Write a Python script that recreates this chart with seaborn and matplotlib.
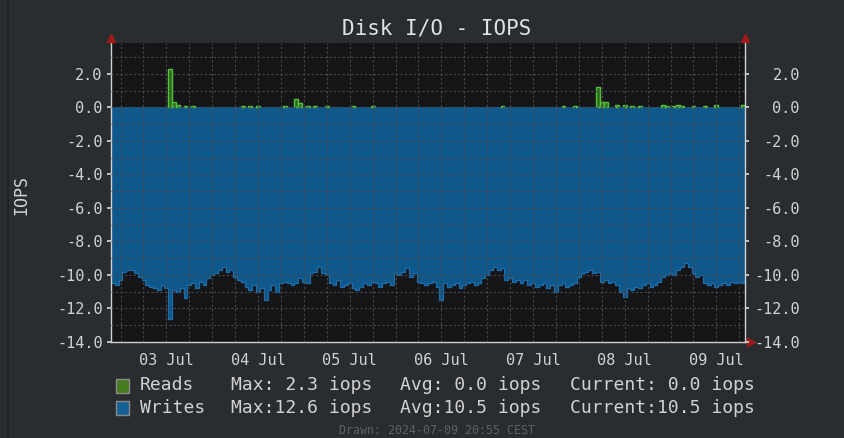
import numpy as np
import pandas as pd
import matplotlib
matplotlib.use("Agg")
import matplotlib.pyplot as plt
import matplotlib.dates as mdates
from matplotlib.patches import Rectangle
from matplotlib.lines import Line2D
from matplotlib.ticker import MultipleLocator
import seaborn as sns

# hourly samples, first one at 02 Jul 21:30
start = pd.Timestamp("2024-07-02 21:30")

# writes (iops), drawn below zero
writes = [
    10.5, 10.6, 10.3, 9.8, 9.7, 9.7, 9.9, 10.1, 10.3, 10.6,
    10.7, 10.8, 10.9, 10.6, 10.8, 12.6, 10.9, 11.0, 10.8, 11.4,
    10.6, 10.5, 10.8, 10.4, 10.6, 10.2, 10.0, 9.9, 9.7, 9.5,
    9.8, 9.7, 10.1, 10.3, 10.4, 10.7, 10.9, 10.6, 11.0, 10.8,
    11.5, 10.9, 10.6, 11.0, 10.5, 10.4, 10.5, 10.6, 10.5, 10.2,
    10.4, 10.5, 9.9, 9.8, 9.5, 9.9, 10.0, 10.5, 10.6, 10.3,
    10.7, 10.6, 10.5, 10.8, 10.9, 10.7, 10.5, 10.6, 10.4, 10.5,
    10.7, 10.5, 10.4, 10.6, 9.9, 10.0, 9.8, 9.6, 10.1, 9.9,
    10.4, 10.5, 10.6, 10.5, 10.4, 10.7, 11.5, 10.5, 10.7, 10.6,
    10.5, 10.8, 10.6, 10.5, 10.4, 10.6, 10.5, 10.2, 10.0, 9.7,
    9.5, 9.7, 9.6, 10.3, 10.2, 10.4, 10.3, 10.5, 10.3, 10.6,
    10.5, 10.7, 10.6, 10.5, 10.8, 10.6, 11.0, 10.6, 10.5, 10.7,
    10.6, 10.5, 10.1, 9.9, 9.8, 9.7, 9.9, 9.8, 10.4, 10.3,
    10.5, 10.4, 10.6, 11.0, 11.3, 10.8, 10.9, 10.7, 10.8, 10.6,
    10.5, 10.7, 10.6, 10.4, 10.1, 10.0, 9.9, 10.0, 9.7, 9.5,
    9.3, 9.5, 9.9, 10.1, 10.0, 10.5, 10.6, 10.5, 10.7, 10.6,
    10.5, 10.6, 10.4, 10.5, 10.4, 10.5,
]

# reads are zero except at these hours
read_idx = [15, 16, 17, 19, 21, 34, 36, 38, 45, 48,
            49, 51, 53, 56, 63, 68, 102, 118, 121, 127,
            128, 129, 132, 134, 136, 138, 144, 145, 147, 148,
            149, 152, 155, 158, 165]
read_val = [2.3, 0.3, 0.15, 0.1, 0.1, 0.1, 0.1, 0.1, 0.1, 0.5,
            0.25, 0.1, 0.1, 0.1, 0.1, 0.1, 0.1, 0.1, 0.1, 1.2,
            0.35, 0.3, 0.15, 0.15, 0.1, 0.1, 0.15, 0.1, 0.1, 0.15,
            0.1, 0.1, 0.1, 0.15, 0.15]

y_ticks = [-14, -12, -10, -8, -6, -4, -2, 0, 2]

legend_rows = [
    ("Reads", "Max: 2.3 iops", "Avg: 0.0 iops", "Current: 0.0 iops"),
    ("Writes", "Max:12.6 iops", "Avg:10.5 iops", "Current:10.5 iops"),
]

BG = "#2a2d30"
PLOT_BG = "#161618"
FG = "#d2d2d2"
GRID = "#48484b"
BLUE = "#0f588c"
BLUE_EDGE = "#1d6dab"
GREEN_FILL = "#2f6a1f"
GREEN_EDGE = "#52c23c"
RED = "#a3191b"

sns.set_theme(style="dark")
plt.rcParams["font.family"] = ["DejaVu Sans Mono", "DejaVu Sans"]

W, H = 844, 438
fig = plt.figure(figsize=(W / 100, H / 100), dpi=100, facecolor=BG)
x0, x1, y0, y1 = 111, 745, 43, 342
ax = fig.add_axes([x0 / W, 1 - y1 / H, (x1 - x0) / W, (y1 - y0) / H])
ax.set_facecolor(PLOT_BG)

times = pd.date_range(start, periods=len(writes) + 1, freq="h")
w = np.array(writes + [writes[-1]])
df = pd.DataFrame({"time": times, "writes": -w})

ax.fill_between(times, -w, 0, step="post", color=BLUE, lw=0, zorder=1)
sns.lineplot(data=df, x="time", y="writes", drawstyle="steps-post",
             color=BLUE_EDGE, lw=0.9, ax=ax, zorder=1.5)

rt = times[read_idx]
ax.bar(rt, read_val, width=1 / 24, align="edge", color=GREEN_FILL,
       edgecolor=GREEN_EDGE, linewidth=1.0, zorder=1.6)

ax.set_xlim(times[0], times[-1])
ax.set_ylim(-14, 3.85)
ax.set_xlabel("")
ax.set_ylabel("")

ax.xaxis.set_major_locator(mdates.HourLocator(byhour=[12]))
ax.xaxis.set_major_formatter(mdates.DateFormatter("%d %b"))
ax.xaxis.set_minor_locator(mdates.HourLocator(byhour=[0, 6, 18]))
ax.set_yticks(y_ticks)
ax.set_yticklabels([f"{v:.1f}" for v in y_ticks])
ax.yaxis.set_minor_locator(MultipleLocator(1))

ax.set_axisbelow(False)
ax.grid(which="both", color=GRID, linestyle=(0, (2, 2)), linewidth=0.8)
ax.tick_params(axis="both", which="both", colors=FG, direction="out",
               labelsize=11, labelcolor=FG)
ax.tick_params(axis="y", which="major", length=3, pad=3)
ax.tick_params(axis="y", which="minor", length=0)
ax.tick_params(axis="x", which="major", length=3, pad=5)
ax.tick_params(axis="x", which="minor", length=2)

for side in ["left", "bottom"]:
    ax.spines[side].set_color(FG)
    ax.spines[side].set_linewidth(1.0)
ax.spines["top"].set_visible(False)
ax.spines["right"].set_visible(False)

twin = ax.twinx()
twin.set_ylim(ax.get_ylim())
twin.set_yticks(y_ticks)
twin.set_yticklabels([f"{v:.1f}" for v in y_ticks])
twin.tick_params(axis="y", colors=FG, labelsize=11, length=3, pad=36.5)
for lbl in twin.get_yticklabels():
    lbl.set_horizontalalignment("right")
twin.grid(False)
for side in ["left", "bottom", "top"]:
    twin.spines[side].set_visible(False)
twin.spines["right"].set_color(FG)
twin.spines["right"].set_linewidth(1.0)

# rrdtool style arrows
ax.plot([0], [1 + 5 / (y1 - y0)], marker="^", color=RED, ms=6,
        transform=ax.transAxes, clip_on=False, zorder=5)
ax.plot([1], [1 + 5 / (y1 - y0)], marker="^", color=RED, ms=6,
        transform=ax.transAxes, clip_on=False, zorder=5)
ax.plot([1 + 6 / (x1 - x0)], [0], marker=">", color=RED, ms=6,
        transform=ax.transAxes, clip_on=False, zorder=5)

fig.text(437 / W, 1 - 28 / H, "Disk I/O - IOPS", ha="center", va="center",
         fontsize=15, color="#e2e2e2")
fig.text(21 / W, 1 - 195 / H, "IOPS", ha="center", va="center",
         rotation=90, fontsize=12, color=FG)

swatch_colors = ["#467a1e", "#145f96"]
row_y = [385.5, 408]
col_x = [140, 231, 400, 570]
for (cols, c, yy) in zip(legend_rows, swatch_colors, row_y):
    fig.patches.append(Rectangle((116 / W, 1 - (yy + 7) / H), 13 / W, 14 / H,
                                 transform=fig.transFigure, facecolor=c,
                                 edgecolor="#8a8a8a", linewidth=1.0))
    for txt, xx in zip(cols, col_x):
        fig.text(xx / W, 1 - yy / H, txt, ha="left", va="center",
                 fontsize=13, color=FG)

fig.text(437 / W, 1 - 430 / H, "Drawn: 2024-07-09 20:55 CEST", ha="center",
         va="center", fontsize=8.4, color="#5c6166")

fig.add_artist(Line2D([8 / W, 8 / W], [0, 1], color="#1f2124", lw=1.5,
                      transform=fig.transFigure))

fig.savefig("out.png", dpi=100, facecolor=BG)
